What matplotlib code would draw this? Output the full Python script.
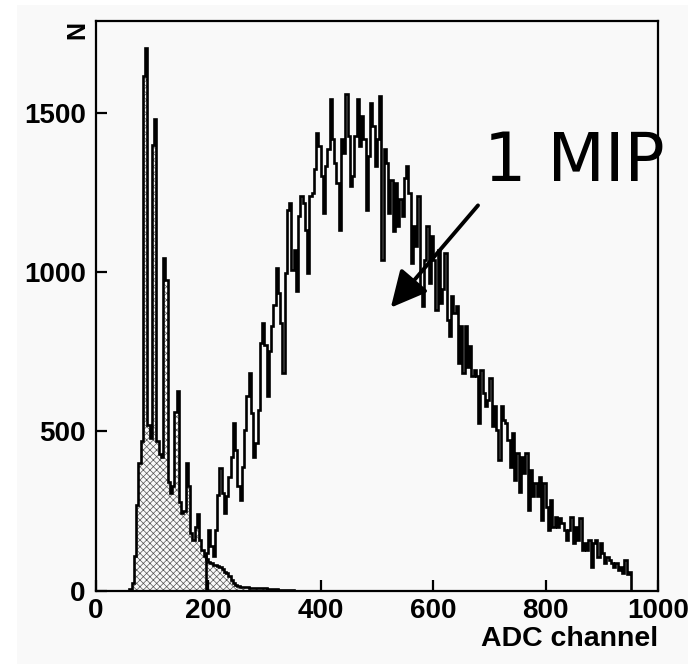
import numpy as np
import matplotlib
matplotlib.use("Agg")
import matplotlib.pyplot as plt
from matplotlib.patches import Rectangle

# ADC spectrum: pedestal (hatched) and 1 MIP signal (open), 4-channel bins
bin_width = 4

ped_first = 60
ped_counts = [5, 25, 110, 270, 400, 470, 1615, 1705, 520, 480,
              1400, 1482, 470, 430, 420, 1045, 975, 340, 307, 330,
              560, 626, 280, 244, 250, 401, 330, 180, 160, 200,
              241, 160, 128, 110, 100, 90, 87, 82, 80, 78,
              74, 68, 60, 55, 45, 35, 25, 18, 15, 13,
              12, 12, 11, 10, 10, 9, 9, 8, 8, 7,
              7, 6, 5, 5, 4, 4, 3, 3, 3, 2,
              2, 2, 1]

mip_first = 196
mip_counts = [117, 190, 140, 108, 190, 300, 385, 306, 243, 296,
              358, 420, 526, 442, 330, 285, 390, 505, 610, 684,
              558, 421, 463, 568, 778, 841, 773, 610, 753, 830,
              898, 1014, 935, 841, 684, 998, 1197, 1218, 1008, 1071,
              940, 1176, 1239, 1218, 1134, 998, 1239, 1250, 1323, 1438,
              1396, 1302, 1187, 1333, 1386, 1543, 1417, 1344, 1281, 1134,
              1417, 1375, 1559, 1428, 1270, 1302, 1428, 1543, 1396, 1491,
              1417, 1197, 1365, 1533, 1459, 1333, 1417, 1553, 1040, 1386,
              1344, 1187, 1291, 1129, 1281, 1145, 1229, 1176, 1297, 1333,
              1250, 1030, 1145, 1082, 1239, 946, 893, 1040, 1145, 967,
              1113, 1040, 883, 1071, 904, 946, 1061, 851, 799, 925,
              872, 893, 715, 830, 684, 830, 704, 767, 673, 694,
              673, 526, 694, 621, 579, 600, 668, 516, 579, 505,
              411, 579, 537, 526, 474, 390, 495, 348, 432, 311,
              421, 369, 432, 254, 380, 296, 338, 296, 358, 222,
              338, 264, 191, 285, 201, 233, 201, 228, 212, 191,
              159, 191, 233, 149, 201, 159, 228, 128, 149, 128,
              159, 75, 149, 159, 107, 149, 117, 86, 107, 96,
              86, 75, 86, 65, 75, 55, 96, 52, 60]

x_ticks = [0, 200, 400, 600, 800, 1000]
y_ticks = [0, 500, 1000, 1500]

ped_edges = ped_first + bin_width * np.arange(len(ped_counts) + 1)
mip_edges = mip_first + bin_width * np.arange(len(mip_counts) + 1)

plt.rcParams['font.family'] = ['Liberation Sans', 'DejaVu Sans']
plt.rcParams['hatch.linewidth'] = 0.5

bg = '#f9f9f9'
fig = plt.figure(figsize=(6.88, 6.64), dpi=100, facecolor='white')
fig.patches.append(Rectangle((17 / 688, 0), 1, 1 - 5 / 664, transform=fig.transFigure,
                             facecolor=bg, edgecolor='none', zorder=-10))
ax = fig.add_axes([95.5 / 688, 1 - 590.7 / 664, 562.5 / 688, 570 / 664])
ax.set_facecolor(bg)

# pedestal: hatched fill plus black outline
ax.stairs(ped_counts, ped_edges, fill=True, hatch='xxxxx', facecolor=bg,
          edgecolor='#555555', linewidth=0)
ax.stairs(ped_counts, ped_edges, baseline=0, color='black', linewidth=1.9)
# signal
ax.stairs(mip_counts, mip_edges, baseline=0, color='black', linewidth=1.9)

ax.set_xlim(0, 1000)
ax.set_ylim(0, 1790)
ax.set_xticks(x_ticks)
ax.set_yticks(y_ticks)
for s in ax.spines.values():
    s.set_linewidth(1.6)
ax.tick_params(direction='in', length=8, width=1.6, labelsize=20)
ax.tick_params(axis='y', pad=7)
ax.tick_params(axis='x', pad=5)
for lab in ax.get_xticklabels() + ax.get_yticklabels():
    lab.set_fontweight('bold')

ax.set_xlabel('ADC channel', loc='right', fontsize=20.5, fontweight='bold', labelpad=2)
ax.text(-0.033, 0.984, 'N', rotation=90, ha='center', va='center',
        transform=ax.transAxes, fontsize=18, fontweight='bold')

ax.text(690, 1286, '1 MIP', fontsize=48, family='DejaVu Sans', ha='left', va='baseline')
ax.annotate('', xy=(525, 889), xytext=(680, 1210),
            arrowprops=dict(arrowstyle='-|>,head_length=1.0,head_width=0.5',
                            mutation_scale=22, lw=2.8, color='black',
                            shrinkA=0, shrinkB=0))

fig.savefig('out.png', dpi=100, facecolor=fig.get_facecolor())
